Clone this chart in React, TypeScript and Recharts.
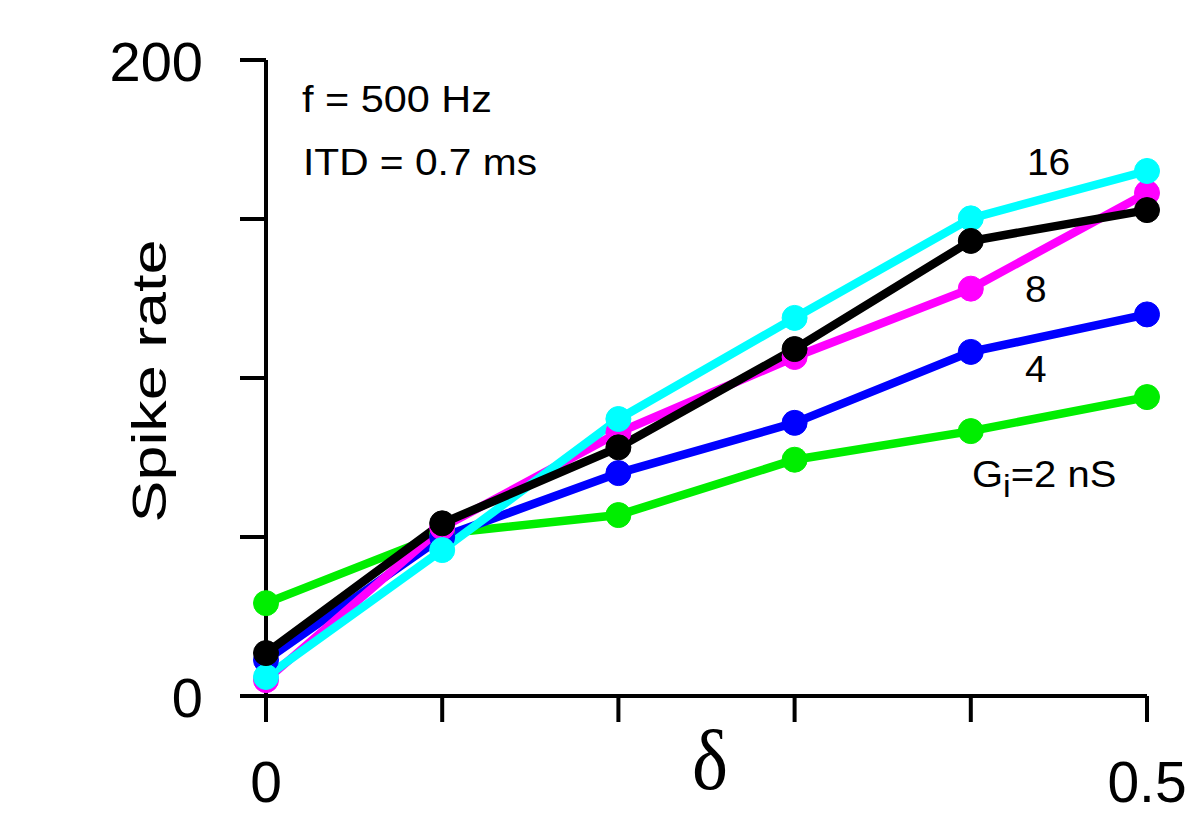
import { LineChart, Line, XAxis, YAxis, Label } from 'recharts';

// delta values (x axis)
const deltas = [0, 0.1, 0.2, 0.3, 0.4, 0.5];

// spike rate per inhibitory conductance
const gi2 = [29.2, 51, 56.9, 74.3, 83.3, 94.0];
const gi4 = [11.3, 50, 70.1, 85.9, 108.2, 120.0];
const gi8 = [5, 53, 82.8, 106.6, 128.1, 158.2];
const gi16 = [6, 45.9, 87.1, 118.9, 150.2, 165.1];
const giBlack = [13.5, 54.3, 78.2, 109.1, 143.1, 152.8];

const xTicks = [0, 0.1, 0.2, 0.3, 0.4, 0.5];
const yTicks = [0, 50, 100, 150, 200];
const xLabelled = [0, 0.5];
const yLabelled = [0, 200];

const data = deltas.map((d, i) => ({
  d,
  gi2: gi2[i],
  gi4: gi4[i],
  gi8: gi8[i],
  gi16: gi16[i],
  giBlack: giBlack[i],
}));

const FONT = '"Liberation Sans", Arial, sans-serif';

// series drawn bottom to top
const SERIES = [
  { key: 'gi2', color: '#00ee00' },
  { key: 'gi4', color: '#0000ff' },
  { key: 'gi8', color: '#ff00ff' },
  { key: 'gi16', color: '#00ffff' },
  { key: 'giBlack', color: '#000000' },
];

function XTick(props: any) {
  const { x, y, payload } = props;
  if (!xLabelled.includes(payload.value)) return null;
  return (
    <text x={x} y={y} dy={80} textAnchor="middle" fontFamily={FONT} fontSize={57} fill="#000">
      {payload.value}
    </text>
  );
}

function YTick(props: any) {
  const { x, y, payload } = props;
  if (!yLabelled.includes(payload.value)) return null;
  return (
    <text x={x} y={y} dy={21} textAnchor="end" fontFamily={FONT} fontSize={56} fill="#000">
      {payload.value}
    </text>
  );
}

function YLabel() {
  return (
    <g transform="translate(166,381) rotate(-90)">
      <text x={0} y={0} textAnchor="middle" fontFamily={FONT} fontSize={48} fill="#000"
        textLength={283} lengthAdjust="spacingAndGlyphs">
        Spike rate
      </text>
    </g>
  );
}

function XLabel() {
  return (
    <text x={710} y={789} textAnchor="middle" fontFamily='"Liberation Serif", "DejaVu Serif", serif'
      fontSize={84} fill="#000" textLength={36} lengthAdjust="spacingAndGlyphs">
      δ
    </text>
  );
}

function Stretch({ x, y, sx = 1.1, size = 37, children }: any) {
  return (
    <g transform={`translate(${x},${y}) scale(${sx},1)`}>
      <text x={0} y={0} fontFamily={FONT} fontSize={size} fill="#000">
        {children}
      </text>
    </g>
  );
}

export default function App() {
  return (
    <div style={{ position: 'absolute', left: 0, top: 0, width: 1191, height: 813, background: '#fff' }}>
      <LineChart width={1191} height={813} data={data} margin={{ top: 60, right: 44, bottom: 0, left: 0 }}>
        <XAxis
          dataKey="d"
          type="number"
          domain={[0, 0.5]}
          ticks={xTicks}
          interval={0}
          height={117}
          tickSize={26}
          tickMargin={0}
          axisLine={{ stroke: '#000', strokeWidth: 4 }}
          tickLine={{ stroke: '#000', strokeWidth: 4 }}
          tick={<XTick />}
        >
          <Label content={<XLabel />} />
        </XAxis>
        <YAxis
          type="number"
          domain={[0, 200]}
          ticks={yTicks}
          interval={0}
          width={266}
          tickSize={26}
          tickMargin={37}
          axisLine={{ stroke: '#000', strokeWidth: 4 }}
          tickLine={{ stroke: '#000', strokeWidth: 4 }}
          tick={<YTick />}
        >
          <Label content={<YLabel />} />
        </YAxis>
        {SERIES.map(s => (
          <Line
            key={s.key}
            dataKey={s.key}
            type="linear"
            stroke={s.color}
            strokeWidth={8.5}
            dot={{ r: 12.5, fill: s.color, stroke: s.color, strokeWidth: 1 }}
            activeDot={false}
            isAnimationActive={false}
          />
        ))}
      </LineChart>
      <svg width={1191} height={813} style={{ position: 'absolute', left: 0, top: 0, pointerEvents: 'none' }}>
        <Stretch x={302} y={112} sx={1.12}>f = 500 Hz</Stretch>
        <Stretch x={303} y={175}>ITD = 0.7 ms</Stretch>
        <Stretch x={1027} y={175} sx={1.05}>16</Stretch>
        <Stretch x={1025} y={302} sx={1.05}>8</Stretch>
        <Stretch x={1025} y={382} sx={1.05}>4</Stretch>
        <Stretch x={972} y={487} sx={1.08}>
          G<tspan dy={10} fontSize={32}>i</tspan><tspan dy={-10}>=2 nS</tspan>
        </Stretch>
      </svg>
    </div>
  );
}
